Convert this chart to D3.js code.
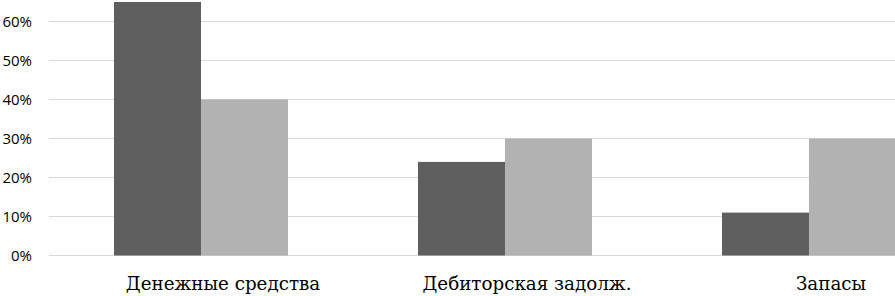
<!DOCTYPE html>
<html>
<head>
<meta charset="utf-8">
<script src="https://cdn.jsdelivr.net/npm/d3@7"></script>
<style>
  body { margin: 0; background: #fff; }
  svg { display: block; }
  .cat-label { font-family: "DejaVu Serif", serif; }
</style>
</head>
<body>
<svg id="chart" width="895" height="296"></svg>
<script>
// categories and the two series (share, %)
const categories = ["Денежные средства", "Дебиторская задолж.", "Запасы"];
const seriesDark = [65, 24, 11];
const seriesLight = [40, 30, 30];
const yTicks = [0, 10, 20, 30, 40, 50, 60];

const svg = d3.select("#chart");
const left = 49, zeroY = 255.5, step = 304;

let x = d3.scaleBand()
    .domain(categories)
    .range([left, left + step * categories.length])
    .paddingInner(0).paddingOuter(0);

let y = d3.scaleLinear()
    .domain([0, 60])
    .range([zeroY, zeroY - 6 * 39]);

// gridlines
svg.append("g")
    .selectAll("line")
    .data(yTicks)
    .join("line")
    .attr("x1", left)
    .attr("x2", 895)
    .attr("y1", d => y(d))
    .attr("y2", d => y(d))
    .attr("stroke", "#d9d9d9")
    .attr("stroke-width", 1);

// y axis labels
svg.append("g")
    .selectAll("text")
    .data(yTicks)
    .join("text")
    .attr("x", 32)
    .attr("y", d => y(d))
    .attr("dy", "0.35em")
    .attr("text-anchor", "end")
    .attr("font-family", "'Open Sans', sans-serif")
    .attr("font-size", 15)
    .attr("fill", "#000")
    .text(d => d + "%");

const barW = 87;
let bars = categories.map((c, i) => ({ cat: c, dark: seriesDark[i], light: seriesLight[i] }));

let g = svg.append("g");
g.selectAll(".dark")
    .data(bars)
    .join("rect")
    .attr("class", "dark")
    .attr("x", d => x(d.cat) + x.bandwidth() / 2 - barW)
    .attr("width", barW)
    .attr("y", d => y(d.dark))
    .attr("height", d => zeroY - y(d.dark))
    .attr("fill", "#5f5f5f");

g.selectAll(".light")
    .data(bars)
    .join("rect")
    .attr("class", "light")
    .attr("x", d => x(d.cat) + x.bandwidth() / 2)
    .attr("width", barW)
    .attr("y", d => y(d.light))
    .attr("height", d => zeroY - y(d.light))
    .attr("fill", "#b2b2b2");

// category labels
svg.append("g")
    .selectAll("text")
    .data(categories)
    .join("text")
    .attr("class", "cat-label")
    .attr("x", d => x(d) + x.bandwidth() / 2 + 22)
    .attr("y", 290)
    .attr("text-anchor", "middle")
    .attr("font-size", 18.3)
    .attr("fill", "#000")
    .text(d => d);
</script>
</body>
</html>
